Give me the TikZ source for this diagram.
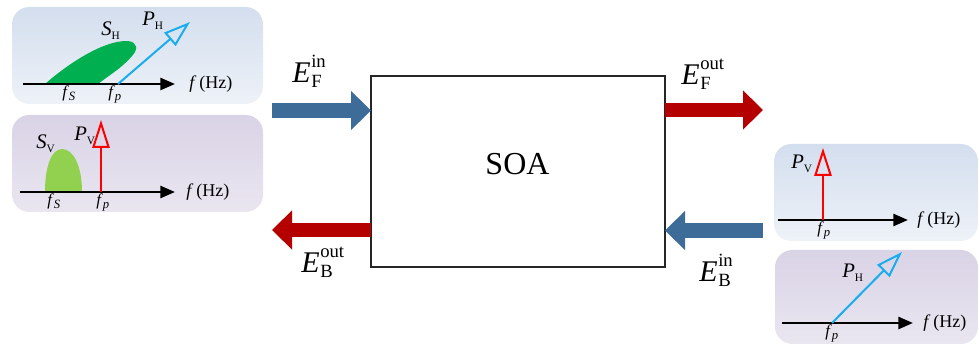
\documentclass[tikz,border=0pt]{standalone}
\usepackage{fontspec}
\setmainfont{Liberation Serif}
\usetikzlibrary{arrows.meta}
\definecolor{arrblue}{HTML}{3D6C99}
\definecolor{arrred}{HTML}{B50000}
\definecolor{gdark}{HTML}{00B050}
\definecolor{glight}{HTML}{92D050}
\definecolor{cyanb}{HTML}{1AACEC}
\definecolor{pblueT}{HTML}{D3DEEE}
\definecolor{pblueB}{HTML}{EEF2F8}
\definecolor{plavT}{HTML}{D9D3E6}
\definecolor{plavB}{HTML}{EAE6F0}
\newcommand\Elab[2]{\fontsize{22.5}{24}\selectfont\textit{E}\kern0.5pt\rlap{\raisebox{11.25pt}{\fontsize{14}{14}\selectfont #1}}\raisebox{-3.5pt}{\fontsize{14}{14}\selectfont #2}}
\newcommand\subsc[1]{\raisebox{-2.5pt}{\fontsize{8.5}{8.5}\selectfont #1}}
\newcommand\fsub[1]{\textit{f}\raisebox{-2pt}{\fontsize{9.5}{9.5}\selectfont\textit{#1}}}
\begin{document}
\begin{tikzpicture}[x=0.75pt,y=-0.75pt,
  bluepanel/.style={rounded corners=13pt, top color=pblueT, bottom color=pblueB, draw=none},
  lavpanel/.style={rounded corners=13pt, top color=plavT, bottom color=plavB, draw=none},
  axis/.style={line width=1.9pt, -{Triangle[length=11pt,width=9pt]}},
  pumpred/.style={draw=red, line width=1.5pt, -{Triangle[open,length=21pt,width=13pt]}},
  pumpblue/.style={draw=cyanb, line width=1.5pt, -{Triangle[open,length=20pt,width=13pt]}},
  bigblue/.style={draw=arrblue, line width=11pt, -{Triangle[length=15pt,width=28.5pt]}},
  bigred/.style={draw=arrred, line width=10.5pt, -{Triangle[length=15pt,width=28.5pt]}},
  lbl/.style={inner sep=0pt, anchor=base west, font=\fontsize{15.5}{17}\selectfont},
  flbl/.style={inner sep=0pt, anchor=base west, font=\fontsize{12.5}{14}\selectfont},
  hz/.style={inner sep=0pt, anchor=west, font=\fontsize{13.5}{15}\selectfont},
  elbl/.style={inner sep=0pt, anchor=base west},
]
\useasboundingbox (0,0) rectangle (979,345);

% ---------- top-left panel (horizontal) ----------
\path[bluepanel] (12,7) rectangle (263,104);
\fill[gdark] (45,84) .. controls (70,62) and (105,40) .. (128,41) .. controls (138,42) and (138,50) .. (132,56) .. controls (122,68) and (108,76) .. (98,84) -- cycle;
\coordinate (a1s) at (23,84); \coordinate (a1e) at (175,84);
\draw[axis] (a1s) -- (a1e);
\coordinate (p1s) at (118,84); \coordinate (p1e) at (190,22);
\draw[pumpblue] (p1s) -- (p1e);
\node[lbl] (sh1) at (101,36) {\textit{S}\subsc{H}};
\node[lbl] (ph1) at (142,26) {\textit{P}\subsc{H}};
\node[flbl] (fs1) at (62,98) {\fsub{S}};
\node[flbl] (fp1) at (108,98) {\fsub{p}};
\node[hz] (hz1) at (189,84) {\textit{f}\,(Hz)};

% ---------- second left panel (vertical) ----------
\path[lavpanel] (12,115) rectangle (263,212);
\fill[glight] (45,192) .. controls (45,165) and (52,149) .. (62,149) .. controls (73,149) and (82,165) .. (82,192) -- cycle;
\coordinate (a2s) at (20,192); \coordinate (a2e) at (175,192);
\draw[axis] (a2s) -- (a2e);
\coordinate (p2s) at (101,192); \coordinate (p2e) at (101,120);
\draw[pumpred] (p2s) -- (p2e);
\node[lbl] (sv2) at (36,149) {\textit{S}\subsc{V}};
\node[lbl] (pv2) at (74,141) {\textit{P}\subsc{V}};
\node[flbl] (fs2) at (47,206) {\fsub{S}};
\node[flbl] (fp2) at (96,206) {\fsub{p}};
\node[hz] (hz2) at (186,192) {\textit{f}\,(Hz)};

% ---------- right top panel ----------
\path[bluepanel] (774,144) rectangle (978,241);
\coordinate (a3s) at (778,220); \coordinate (a3e) at (908,220);
\draw[axis] (a3s) -- (a3e);
\coordinate (p3s) at (823,220); \coordinate (p3e) at (823,148);
\draw[pumpred] (p3s) -- (p3e);
\node[lbl] (pv3) at (791,169) {\textit{P}\subsc{V}};
\node[flbl] (fp3) at (817,234) {\fsub{p}};
\node[hz] (hz3) at (917,220) {\textit{f}\,(Hz)};

% ---------- right bottom panel ----------
\path[lavpanel] (775,250) rectangle (978,344);
\coordinate (a4s) at (782,323); \coordinate (a4e) at (913,323);
\draw[axis] (a4s) -- (a4e);
\coordinate (p4s) at (832,323); \coordinate (p4e) at (902,252);
\draw[pumpblue] (p4s) -- (p4e);
\node[lbl] (ph4) at (842,278) {\textit{P}\subsc{H}};
\node[flbl] (fp4) at (825,337) {\fsub{p}};
\node[hz] (hz4) at (923,323) {\textit{f}\,(Hz)};

% ---------- SOA ----------
\node[draw=black!85, line width=1.1pt, minimum width=220.5pt, minimum height=143.25pt, inner sep=0pt, outer sep=0pt] (soa) at (518,171.5) {};
\node[inner sep=0pt, font=\fontsize{24}{26}\selectfont] (soatxt) at (517.5,164.5) {SOA};

% ---------- big arrows ----------
\coordinate (inF) at (272,110.5);
\draw[bigblue] (inF) -- (inF -| soa.west);
\coordinate (outF) at (763,110);
\draw[bigred] (soa.east |- outF) -- (outF);
\coordinate (outB) at (272,230);
\draw[bigred] (soa.west |- outB) -- (outB);
\coordinate (inB) at (763,230.5);
\draw[bigblue] (inB) -- (inB -| soa.east);

% ---------- field labels ----------
\node[elbl] (eFin) at (292,83) {\Elab{in}{F}};
\node[elbl] (eFout) at (681,85) {\Elab{out}{F}};
\node[elbl] (eBout) at (301,273) {\Elab{out}{B}};
\node[elbl] (eBin) at (699,282) {\Elab{in}{B}};
\end{tikzpicture}
\end{document}
